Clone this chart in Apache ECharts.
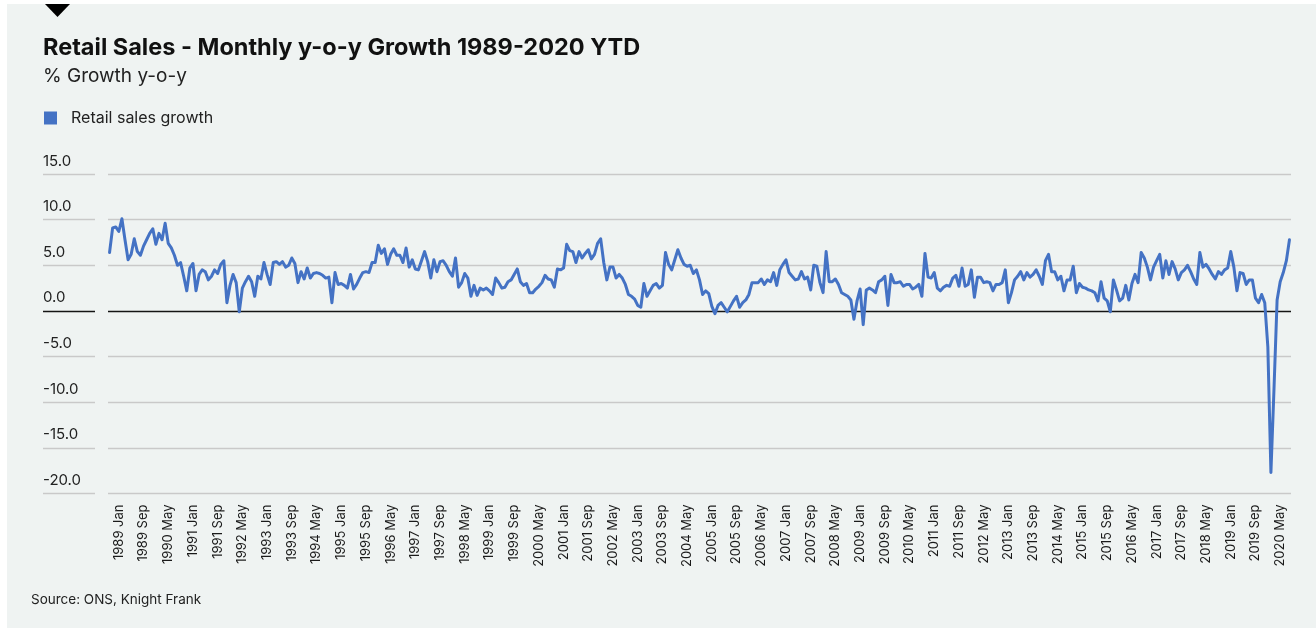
<!DOCTYPE html>
<html>
<head>
<meta charset="utf-8">
<script src="https://cdn.jsdelivr.net/npm/echarts@6/dist/echarts.min.js"></script>
<style>
  html, body { margin: 0; padding: 0; background: #ffffff; }
  #panel { position: absolute; left: 7px; top: 4px; width: 1309px; height: 624px; background: #eff3f2; }
  #chart { position: absolute; left: 0; top: 0; width: 1316px; height: 628px; }
</style>
</head>
<body>
<div id="panel"></div>
<div id="chart"></div>
<script>
// Monthly series starts in October 1988; axis labels are shown every 8 months from 1989 Jan.
const START_YEAR = 1988;
const START_MONTH = 9; // 0-based: October
const MONTH_NAMES = ['Jan', 'Feb', 'Mar', 'Apr', 'May', 'Jun', 'Jul', 'Aug', 'Sep', 'Oct', 'Nov', 'Dec'];
const FIRST_LABEL_INDEX = 3;   // 1989 Jan
const LABEL_STEP = 8;          // months between labels

// Y axis ticks (% growth y-o-y)
const Y_MIN = -20;
const Y_MAX = 15;
const Y_STEP = 5;

// Retail sales growth, % y-o-y
const growth1988to1996 = [
  6.4, 9.1, 9.2, 8.7, 10.1, 7.8, 5.6, 6.2, 7.9, 6.5,
  6.1, 7.1, 7.8, 8.5, 9.0, 7.3, 8.5, 7.8, 9.6, 7.4,
  6.9, 6.1, 5.0, 5.3, 3.8, 2.2, 4.7, 5.2, 2.2, 4.0,
  4.5, 4.3, 3.4, 3.8, 4.5, 4.1, 5.1, 5.5, 0.9, 2.8,
  4.0, 3.1, -0.1, 2.5, 3.2, 3.8, 3.2, 1.6, 3.8, 3.5,
  5.3, 4.0, 2.9, 5.3, 5.4, 5.1, 5.4, 4.8, 5.0, 5.8,
  5.2, 3.1, 4.3, 3.5, 4.7, 3.6, 4.1, 4.2, 4.1, 3.9,
  3.6, 3.7, 0.9, 4.2, 2.9, 3.0, 2.8, 2.5, 4.0, 2.4,
  2.9, 3.6, 4.2, 4.3, 4.2, 5.3, 5.3, 7.2, 6.3, 6.8,
  5.1, 6.2, 6.8, 6.1
];
const growth1996to2004 = [
  6.1, 5.3, 6.9, 4.8, 5.6, 4.6, 4.5, 5.5, 6.5, 5.4,
  3.6, 5.6, 4.3, 5.4, 5.5, 5.0, 4.3, 3.8, 5.8, 2.6,
  3.1, 4.1, 3.6, 1.6, 2.8, 1.7, 2.5, 2.3, 2.5, 2.2,
  1.8, 3.6, 3.1, 2.5, 2.6, 3.2, 3.4, 4.0, 4.6, 3.2,
  2.8, 3.0, 2.0, 2.0, 2.4, 2.7, 3.1, 3.9, 3.5, 3.4,
  2.6, 4.6, 4.5, 4.7, 7.3, 6.6, 6.5, 5.3, 6.5, 5.8,
  6.3, 6.7, 5.7, 6.2, 7.4, 7.9, 5.3, 3.4, 4.8, 4.8,
  3.6, 4.0, 3.6, 2.9, 1.8, 1.6, 1.3, 0.6, 0.4, 3.0,
  1.6, 2.2, 2.8, 3.0, 2.5, 2.8, 6.4, 5.1, 4.5, 5.6,
  6.7, 5.8, 5.1, 4.9
];
const growth2004to2012 = [
  5.0, 4.1, 4.5, 3.4, 1.8, 2.2, 1.9, 0.5, -0.3, 0.6,
  0.9, 0.4, -0.1, 0.5, 1.1, 1.6, 0.4, 0.9, 1.2, 1.8,
  3.1, 3.1, 3.1, 3.5, 2.9, 3.4, 3.2, 4.2, 2.8, 4.5,
  5.1, 5.6, 4.2, 3.8, 3.4, 3.5, 4.3, 3.5, 3.7, 2.3,
  5.0, 4.9, 3.1, 2.0, 6.5, 3.2, 3.2, 3.5, 2.9, 2.0,
  1.8, 1.6, 1.2, -0.9, 1.1, 2.4, -1.5, 2.3, 2.5, 2.3,
  2.0, 3.2, 3.4, 3.8, 0.6, 4.0, 3.1, 3.1, 3.2, 2.7,
  2.9, 2.9, 2.4, 2.6, 2.9, 1.6, 6.3, 3.7, 3.6, 4.2,
  2.5, 2.2, 2.6, 2.8, 2.7, 3.6, 3.9, 2.7, 4.7, 2.7,
  2.9, 4.5, 1.5, 3.7
];
const growth2012to2020 = [
  3.7, 3.1, 3.2, 3.1, 2.2, 2.9, 2.9, 3.1, 4.5, 0.9,
  2.0, 3.4, 3.8, 4.3, 3.4, 4.2, 3.7, 4.0, 4.5, 3.8,
  2.9, 5.5, 6.2, 4.3, 4.3, 3.4, 3.8, 2.2, 3.4, 3.4,
  4.9, 2.0, 3.0, 2.6, 2.5, 2.3, 2.2, 2.0, 1.1, 3.2,
  1.4, 1.1, -0.1, 3.4, 2.3, 1.1, 1.4, 2.8, 1.2, 3.0,
  4.0, 3.1, 6.4, 5.8, 4.8, 3.4, 4.8, 5.5, 6.2, 3.6,
  5.5, 4.0, 5.4, 4.6, 3.4, 4.2, 4.5, 5.0, 4.3, 3.5,
  2.9, 6.4, 4.8, 5.1, 4.6, 4.0, 3.5, 4.3, 4.0, 4.5,
  4.7, 6.5, 4.8, 2.2, 4.2, 4.1, 2.9, 3.4, 3.4, 1.4,
  0.9, 1.8, 0.9, -3.9, -17.7, -8.5, 1.2, 3.2, 4.2, 5.5,
  7.8
];

const growth = growth1988to1996.concat(growth1996to2004, growth2004to2012, growth2012to2020);

// Month category labels, e.g. "1989 Jan"
const months = growth.map(function (_, i) {
  const m = START_MONTH + i;
  return (START_YEAR + Math.floor(m / 12)) + ' ' + MONTH_NAMES[m % 12];
});

const FONT = 'Inter, "Liberation Sans", Arial, sans-serif';
const GRID_COLOR = '#c9c9c9';
const ZERO_COLOR = '#141414';
const LINE_COLOR = '#4472c4';
// one colour per split line, from Y_MIN upwards; the zero line is drawn dark
const splitColors = [];
for (let v = Y_MIN; v <= Y_MAX; v += Y_STEP) splitColors.push(v === 0 ? ZERO_COLOR : GRID_COLOR);

const GRID_TOP = 174;
const GRID_BOTTOM = 134.5;

const chart = echarts.init(document.getElementById('chart'), null, { renderer: 'canvas' });
chart.setOption({
  animation: false,
  backgroundColor: 'transparent',
  textStyle: { fontFamily: FONT },
  title: [
    {
      text: 'Retail Sales - Monthly y-o-y Growth 1989-2020 YTD',
      left: 43,
      top: 36,
      padding: 0,
      textStyle: { fontFamily: FONT, fontSize: 23.5, fontWeight: 'bold', color: '#111111' }
    },
    {
      text: '% Growth y-o-y',
      left: 43,
      top: 67,
      padding: 0,
      textStyle: { fontFamily: FONT, fontSize: 19, fontWeight: 'normal', color: '#222222' }
    },
    {
      text: 'Source: ONS, Knight Frank',
      left: 31,
      top: 593,
      padding: 0,
      textStyle: { fontFamily: FONT, fontSize: 13.5, fontWeight: 'normal', color: '#222222' }
    }
  ],
  legend: {
    left: 44,
    top: 110,
    padding: 0,
    icon: 'rect',
    itemWidth: 13,
    itemHeight: 13,
    textStyle: { fontFamily: FONT, fontSize: 16, color: '#222222', padding: [0, 0, 0, 9] },
    data: ['Retail sales growth']
  },
  graphic: [
    {
      type: 'polygon',
      shape: { points: [[45, 4], [70, 4], [57.5, 17]] },
      style: { fill: '#000000' }
    }
  ],
  grid: [
    { left: 108, right: 25, top: GRID_TOP, bottom: GRID_BOTTOM, containLabel: false },
    { left: 43, width: 52, top: GRID_TOP, bottom: GRID_BOTTOM, containLabel: false }
  ],
  xAxis: [
    {
      type: 'category',
      gridIndex: 0,
      data: months,
      boundaryGap: true,
      axisLine: { show: false },
      axisTick: { show: false },
      splitLine: { show: false },
      axisLabel: {
        rotate: 90,
        margin: 11,
        fontFamily: FONT,
        fontSize: 13,
        color: '#1a1a1a',
        interval: function (index) { return index >= FIRST_LABEL_INDEX && (index - FIRST_LABEL_INDEX) % LABEL_STEP === 0; }
      }
    },
    {
      type: 'value',
      gridIndex: 1,
      min: 0,
      max: 1,
      show: false
    }
  ],
  yAxis: [
    {
      type: 'value',
      gridIndex: 0,
      min: Y_MIN,
      max: Y_MAX,
      interval: Y_STEP,
      axisLine: { show: false },
      axisTick: { show: false },
      axisLabel: {
        show: true,
        align: 'left',
        verticalAlign: 'bottom',
        margin: 65,
        padding: [0, 0, 5.5, 0],
        fontFamily: FONT,
        fontSize: 15,
        color: '#222222',
        formatter: function (v) { return v.toFixed(1); }
      },
      splitLine: { show: true, lineStyle: { color: splitColors, width: 1.3 } }
    },
    {
      type: 'value',
      gridIndex: 1,
      min: Y_MIN,
      max: Y_MAX,
      interval: Y_STEP,
      axisLine: { show: false },
      axisTick: { show: false },
      axisLabel: { show: false },
      splitLine: { show: true, lineStyle: { color: splitColors, width: 1.3 } }
    }
  ],
  series: [
    {
      name: 'Retail sales growth',
      type: 'line',
      xAxisIndex: 0,
      yAxisIndex: 0,
      data: growth,
      showSymbol: false,
      symbol: 'none',
      color: LINE_COLOR,
      lineStyle: { width: 3, color: LINE_COLOR, join: 'round', cap: 'round' },
      z: 3
    }
  ]
});
</script>
</body>
</html>
